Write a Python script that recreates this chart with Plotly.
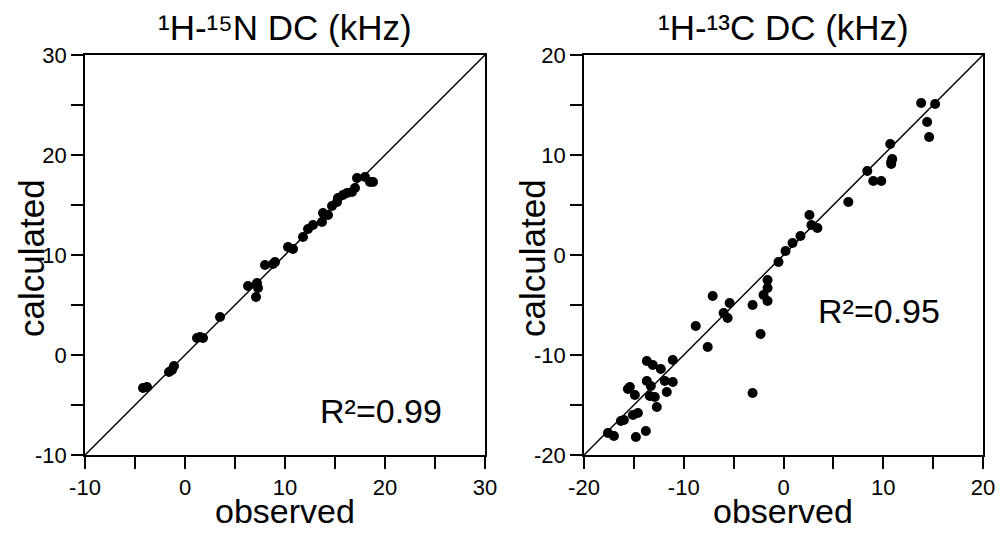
import plotly.graph_objects as go

# Left panel: 1H-15N DC (kHz)
n_obs = [-4.2, -3.8, -1.6, -1.3, -1.1, 1.2, 1.5, 1.8, 3.5, 6.3, 7.2, 7.3, 7.1, 8.0, 9.0, 8.8,
         10.3, 10.8, 11.8, 12.3, 12.8, 13.7, 13.8, 14.3, 14.7, 15.2, 15.3, 15.8, 16.2, 16.7,
         17.0, 17.2, 18.0, 18.5, 18.8]
n_calc = [-3.3, -3.2, -1.7, -1.5, -1.1, 1.7, 1.8, 1.7, 3.8, 6.9, 7.2, 6.7, 5.8, 9.0, 9.3, 9.1,
          10.8, 10.6, 11.8, 12.6, 13.0, 13.3, 14.2, 14.0, 14.9, 15.3, 15.7, 16.0, 16.2, 16.3,
          16.7, 17.7, 17.8, 17.3, 17.3]

# Right panel: 1H-13C DC (kHz)
c_obs = [13.8, 15.2, 14.4, 14.6, 10.7, 10.9, 10.8, 10.8, 8.4, 9.0, 9.8, 6.5, 2.6, 2.8, 3.4,
         1.7, 0.9, 0.2, -0.5, -1.6, -1.6, -2.0, -1.6, -3.1, -2.3, -3.1, -5.4, -6.0, -5.6,
         -7.1, -8.8, -7.6, -11.1, -11.1, -11.9, -12.3, -13.1, -13.7, -13.7, -13.3, -11.7,
         -12.9, -13.4, -12.7, -15.4, -15.6, -14.9, -14.6, -15.1, -16.0, -16.3, -17.6, -17.0,
         -14.8, -13.8]
c_calc = [15.2, 15.1, 13.3, 11.8, 11.1, 9.6, 9.1, 9.3, 8.4, 7.4, 7.4, 5.3, 4.0, 3.0, 2.7,
          1.9, 1.2, 0.4, -0.7, -2.5, -3.3, -4.0, -4.6, -5.0, -7.9, -13.8, -4.8, -5.8, -6.3,
          -4.1, -7.1, -9.2, -10.5, -12.7, -12.6, -11.4, -11.0, -10.6, -12.6, -13.1, -13.7,
          -14.2, -14.1, -15.2, -13.2, -13.4, -14.0, -15.8, -16.0, -16.5, -16.6, -17.8, -18.1,
          -18.2, -17.6]

left_range = [-10, 30]
right_range = [-20, 20]
left_ticks = [-10, -5, 0, 5, 10, 15, 20, 25, 30]
left_labels = ["-10", "", "0", "", "10", "", "20", "", "30"]
right_ticks = [-20, -15, -10, -5, 0, 5, 10, 15, 20]
right_labels = ["-20", "", "-10", "", "0", "", "10", "", "20"]
titles = ["¹H-¹⁵N DC (kHz)", "¹H-¹³C DC (kHz)"]
r2_labels = ["R²=0.99", "R²=0.95"]
x_title = "observed"
y_title = "calculated"

FONT = "Liberation Sans, Arial, sans-serif"
OFF = 8  # page body margin
W, H = 1003 - OFF, 533 - OFF


def px(x):
    return (x - OFF) / W


def py(y):
    return (H - (y - OFF)) / H


fig = go.Figure()

fig.add_trace(go.Scatter(x=left_range, y=left_range, mode="lines",
                         line=dict(color="black", width=1.5), xaxis="x", yaxis="y",
                         showlegend=False, hoverinfo="skip"))
fig.add_trace(go.Scatter(x=n_obs, y=n_calc, mode="markers",
                         marker=dict(color="black", size=10), xaxis="x", yaxis="y",
                         showlegend=False))
fig.add_trace(go.Scatter(x=right_range, y=right_range, mode="lines",
                         line=dict(color="black", width=1.5), xaxis="x2", yaxis="y2",
                         showlegend=False, hoverinfo="skip"))
fig.add_trace(go.Scatter(x=c_obs, y=c_calc, mode="markers",
                         marker=dict(color="black", size=10), xaxis="x2", yaxis="y2",
                         showlegend=False))

y_dom = [py(455), py(55)]


def axis(domain, rng, ticks, labels, anchor):
    return dict(
        domain=domain, range=rng, anchor=anchor, automargin=False,
        tickmode="array", tickvals=ticks, ticktext=labels,
        ticks="outside", ticklen=12, tickwidth=1.5, tickcolor="black",
        showline=True, linecolor="black", linewidth=1.5, mirror=True,
        showgrid=False, zeroline=False,
        tickfont=dict(family=FONT, size=22, color="black"),
    )


fig.update_layout(
    width=W, height=H,
    margin=dict(l=0, r=0, t=0, b=0),
    plot_bgcolor="white", paper_bgcolor="white",
    xaxis=axis([px(85), px(485)], left_range, left_ticks, left_labels, "y"),
    yaxis=axis(y_dom, left_range, left_ticks, left_labels, "x"),
    xaxis2=axis([px(584), px(983)], right_range, right_ticks, right_labels, "y2"),
    yaxis2=axis(y_dom, right_range, right_ticks, right_labels, "x2"),
)

big = dict(family=FONT, size=35, color="black")
for ttl, cx in zip(titles, [285, 783]):
    fig.add_annotation(text=ttl, xref="paper", yref="paper", x=px(cx), y=py(28),
                       showarrow=False, font=big, xanchor="center", yanchor="middle")
for cx in [285, 783]:
    fig.add_annotation(text=x_title, xref="paper", yref="paper", x=px(cx), y=py(511),
                       showarrow=False, font=dict(family=FONT, size=34, color="black"),
                       xanchor="center", yanchor="middle")
for cx in [31, 532]:
    fig.add_annotation(text=y_title, xref="paper", yref="paper", x=px(cx), y=py(258),
                       showarrow=False, font=big, textangle=-90,
                       xanchor="center", yanchor="middle")

fig.add_annotation(text=r2_labels[0], xref="x", yref="y", x=19.6, y=-5.6, showarrow=False,
                   font=dict(family=FONT, size=34, color="black"))
fig.add_annotation(text=r2_labels[1], xref="x2", yref="y2", x=9.6, y=-5.6, showarrow=False,
                   font=dict(family=FONT, size=34, color="black"))

fig.write_html("out.html")
